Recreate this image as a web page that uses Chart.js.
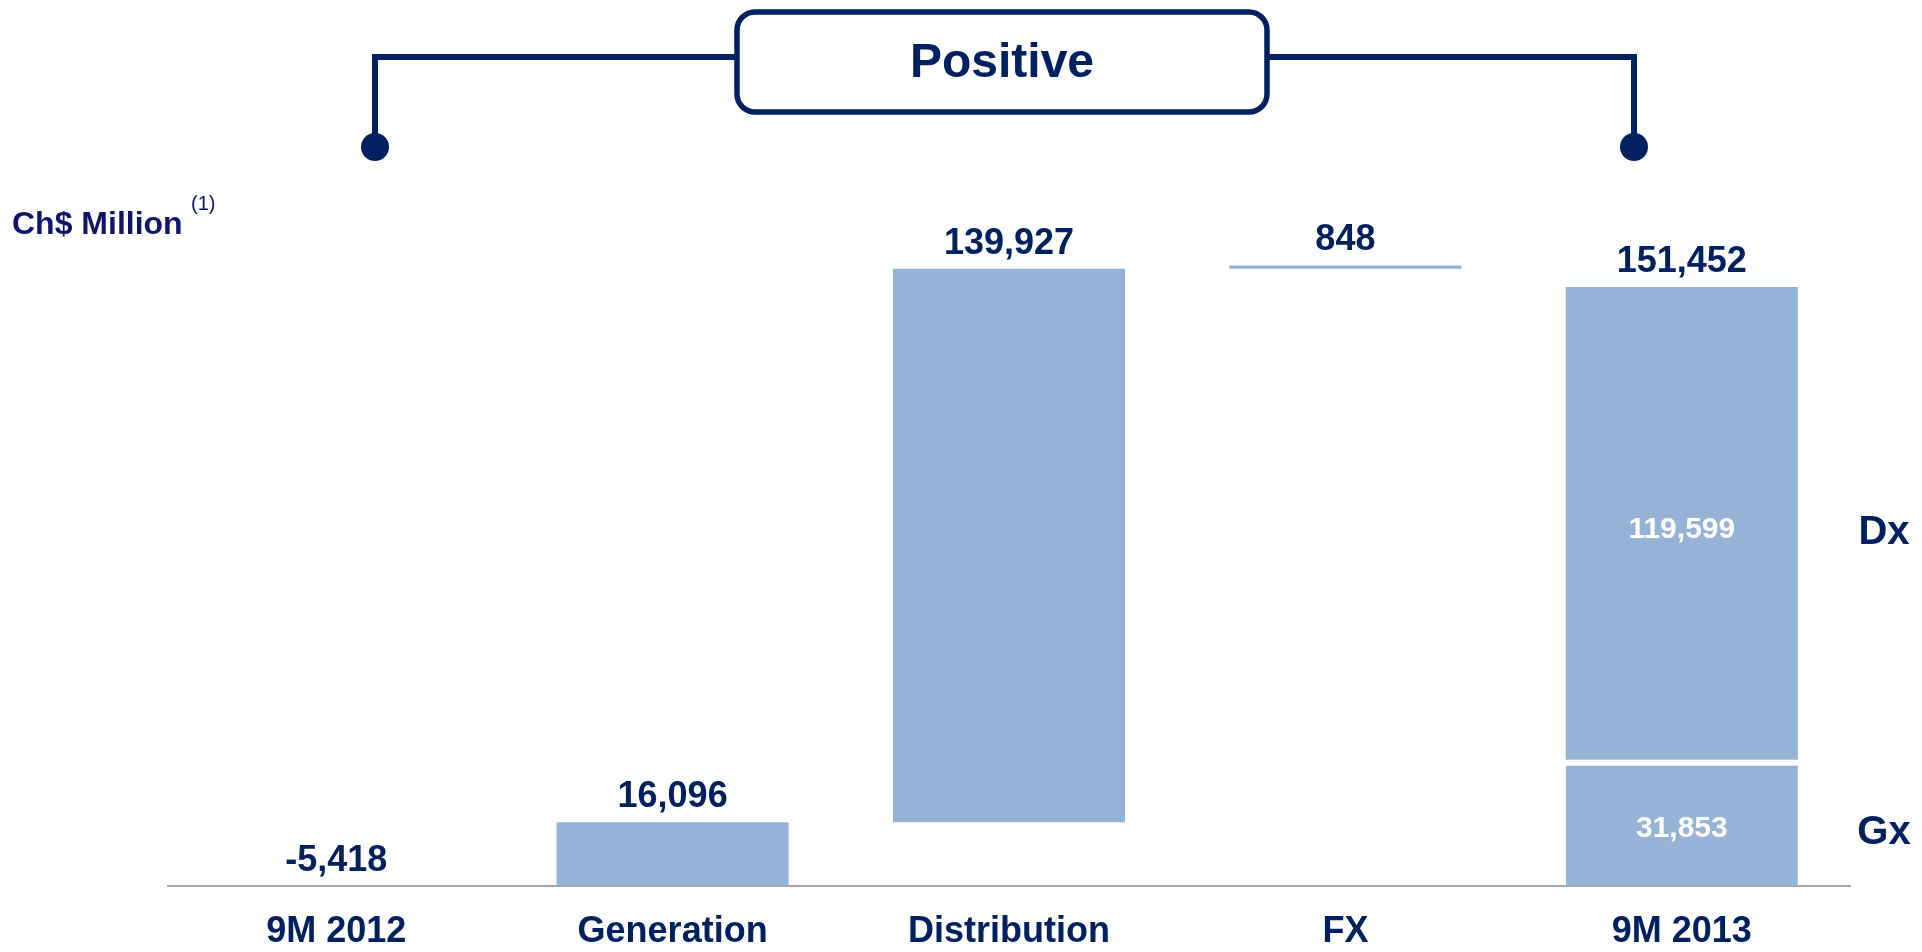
<!DOCTYPE html>
<html>
<head>
<meta charset="utf-8">
<title>EBITDA bridge 9M 2012 - 9M 2013</title>
<script src="https://cdn.jsdelivr.net/npm/chart.js@4.4.0/dist/chart.umd.min.js"></script>
<style>
    html, body { margin: 0; padding: 0; background: #ffffff; }
    #wrap { position: relative; width: 1922px; height: 952px; }
</style>
</head>
<body>
<div id="wrap"><canvas id="bridgeChart"></canvas></div>
<script>
// Data (Ch$ Million)
const categories = ['9M 2012', 'Generation', 'Distribution', 'FX', '9M 2013'];
const startValue = -5418;
const stepValues = [16096, 139927, 848];   // Generation, Distribution, FX
const endGx = [31853];
const endDx = [119599];
const endTotal = [151452];

const NAVY = '#002060';
const BAR = '#95b3d7';
const FONT = "'Liberation Sans', Arial, sans-serif";

// Floating bars for the steps (the slide starts the bridge at the axis)
let running = 0;
const stepBars = [null];
stepValues.forEach(v => {
    stepBars.push([running, running + v]);
    running += v;
});
stepBars.push(null);

const gxBars = [null, null, null, null, [0, endGx[0]]];
const dxBars = [null, null, null, null, [endGx[0], endGx[0] + endDx[0]]];
const topLabels = [startValue, ...stepValues, endTotal[0]];

const fmt = v => v.toLocaleString('en-US');

// Annotations: bracket, box, unit label, value labels
const annotations = {
    id: 'annotations',
    afterDraw(chart) {
        const ctx = chart.ctx;
        const area = chart.chartArea;
        const xs = chart.scales.x;
        ctx.save();

        // bracket "Positive"
        ctx.strokeStyle = NAVY;
        ctx.fillStyle = NAVY;
        ctx.lineWidth = 6;
        ctx.beginPath();
        ctx.moveTo(375, 147);
        ctx.lineTo(375, 57);
        ctx.lineTo(737, 57);
        ctx.moveTo(1267, 57);
        ctx.lineTo(1634, 57);
        ctx.lineTo(1634, 147);
        ctx.stroke();
        [375, 1634].forEach(x => {
            ctx.beginPath();
            ctx.arc(x, 147, 14, 0, Math.PI * 2);
            ctx.fill();
        });
        ctx.lineWidth = 5.5;
        ctx.beginPath();
        ctx.roundRect(737, 12, 530, 100, 18);
        ctx.fillStyle = '#ffffff';
        ctx.fill();
        ctx.stroke();
        ctx.fillStyle = NAVY;
        ctx.font = 'bold 48px ' + FONT;
        ctx.textAlign = 'center';
        ctx.textBaseline = 'middle';
        ctx.fillText('Positive', 1002, 64);

        // unit label
        ctx.fillStyle = '#10146b';
        ctx.textAlign = 'left';
        ctx.textBaseline = 'alphabetic';
        ctx.font = 'bold 32px ' + FONT;
        ctx.fillText('Ch$ Million', 12, 234);
        ctx.font = '20px ' + FONT;
        ctx.fillText('(1)', 191, 210);

        // value labels above each column
        ctx.fillStyle = NAVY;
        ctx.textAlign = 'center';
        ctx.textBaseline = 'middle';
        ctx.font = 'bold 36px ' + FONT;
        categories.forEach((c, i) => {
            let top = area.bottom;
            chart.data.datasets.forEach((ds, di) => {
                const el = chart.getDatasetMeta(di).data[i];
                if (ds.data[i] && el) top = Math.min(top, el.y);
            });
            ctx.fillText(fmt(topLabels[i]), xs.getPixelForValue(i), top - 25);
        });

        // inner labels of the 9M 2013 stack and Dx / Gx tags
        [[1, endDx[0], 'Dx'], [0, endGx[0], 'Gx']].forEach(([di, v, tag]) => {
            const el = chart.getDatasetMeta(di).data[4];
            const yMid = (el.y + el.base) / 2 + 6;
            ctx.fillStyle = '#ffffff';
            ctx.font = 'bold 30px ' + FONT;
            ctx.fillText(fmt(v), el.x, yMid);
            ctx.fillStyle = NAVY;
            ctx.font = 'bold 40px ' + FONT;
            ctx.fillText(tag, area.right + 34, yMid + 4);
        });
        ctx.restore();
    }
};

new Chart(document.getElementById('bridgeChart'), {
    type: 'bar',
    data: {
        labels: categories,
        datasets: [
            {
                label: 'Gx',
                data: gxBars,
                backgroundColor: BAR,
                borderColor: '#ffffff',
                borderWidth: { top: 6, right: 0, bottom: 0, left: 0 },
                borderSkipped: false
            },
            {
                label: 'Dx',
                data: dxBars,
                backgroundColor: BAR,
                borderWidth: 0
            },
            {
                label: 'Steps',
                data: stepBars,
                backgroundColor: BAR,
                borderWidth: 0
            }
        ]
    },
    options: {
        responsive: true,
        maintainAspectRatio: false,
        animation: false,
        layout: {
            padding: { left: 168, right: 72, top: 0, bottom: -27 }
        },
        datasets: {
            bar: {
                barPercentage: 0.69,
                categoryPercentage: 1,
                grouped: false
            }
        },
        scales: {
            x: {
                stacked: true,
                grid: { display: false, drawTicks: false },
                border: { display: true, color: '#a6a6a6', width: 2 },
                ticks: {
                    color: NAVY,
                    padding: 25,
                    font: { family: FONT, size: 36, weight: 'bold' }
                }
            },
            y: {
                display: false,
                min: 0,
                max: 224000
            }
        },
        plugins: {
            legend: { display: false },
            tooltip: { enabled: false }
        }
    },
    plugins: [annotations]
});
</script>
</body>
</html>
